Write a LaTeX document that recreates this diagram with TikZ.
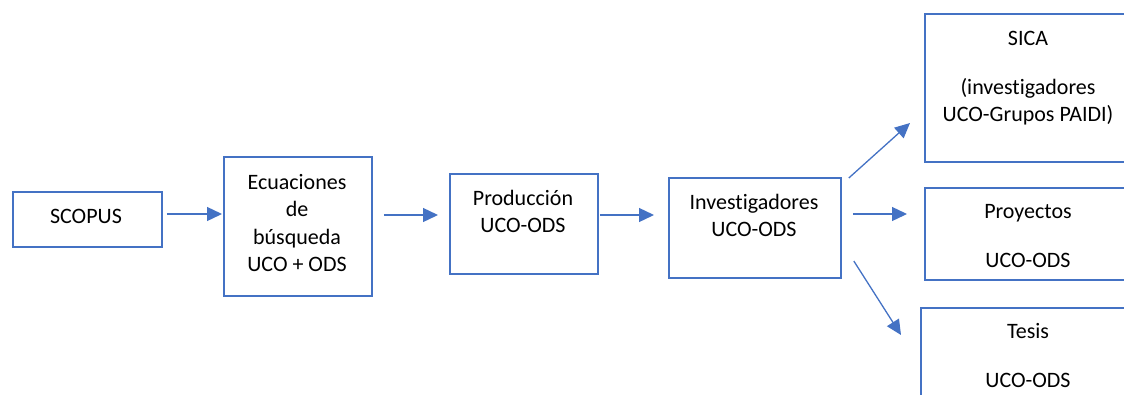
\documentclass[tikz,border=0pt]{standalone}
\usepackage{fontspec}
\setmainfont{Carlito}[Ligatures=NoCommon]
\usetikzlibrary{arrows.meta,calc}
\definecolor{ublue}{HTML}{4472C4}
\begin{document}
\begin{tikzpicture}[x=1pt,y=-1pt,
  box/.style={draw=ublue,line width=1.8pt,inner sep=0pt,anchor=north west},
  txt/.style={anchor=north,inner sep=0pt,align=center,font=\fontsize{22}{27.5}\selectfont,text=black},
  arr/.style={draw=ublue,line width=1.3pt,-{Triangle[length=15pt,width=14pt]}}]
\useasboundingbox (0,0) rectangle (1124,394);
\clip (0,0) rectangle (1124,394);
% boxes
\node[box,minimum width=149pt,minimum height=55pt] (scopus) at (12,191) {};
\node[box,minimum width=148pt,minimum height=139pt] (ecu) at (223,156) {};
\node[box,minimum width=148pt,minimum height=100pt] (prod) at (449,173) {};
\node[box,minimum width=172pt,minimum height=100pt] (inv) at (668,177) {};
\node[box,minimum width=208pt,minimum height=148pt] (sica) at (924,13) {};
\node[box,minimum width=208pt,minimum height=92pt] (proy) at (924,187) {};
\node[box,minimum width=216pt,minimum height=100pt] (tesis) at (920,307) {};
% texts
\node[txt] (tscopus) at (86,203.75) {\strut SCOPUS};
\node[txt] (tecu) at (297,169.75) {\strut Ecuaciones\\\strut de\\\strut búsqueda\\\strut UCO + ODS};
\node[txt] (tprod) at (523,185.75) {\strut Producción\\\strut UCO-ODS};
\node[txt] (tinv) at (754,189.75) {\strut Investigadores\\\strut UCO-ODS};
\node[txt] (tsica) at (1028,25.75) {\strut SICA\\[21.5pt]\strut (investigadores\\\strut UCO-Grupos PAIDI)};
\node[txt] (tproy) at (1028,198.75) {\strut Proyectos\\[21.5pt]\strut UCO-ODS};
\node[txt] (ttesis) at (1028,318.75) {\strut Tesis\\[21.5pt]\strut UCO-ODS};
% arrows
\draw[arr] ($(scopus.north east)+(4,23)$) -- ($(ecu.north west)+(-1,58)$);
\draw[arr] ($(ecu.north east)+(11,59)$) -- ($(prod.north west)+(-11,42)$);
\draw[arr] ($(prod.north east)+(1,42)$) -- ($(inv.north west)+(-14,38)$);
\draw[arr] ($(inv.north east)+(7,1)$) -- ($(sica.north west)+(-14,110)$);
\draw[arr] ($(inv.north east)+(11,37)$) -- ($(proy.north west)+(-17,27)$);
\draw[arr] ($(inv.north east)+(12,84)$) -- ($(tesis.north west)+(-19,28)$);
\end{tikzpicture}
\end{document}
